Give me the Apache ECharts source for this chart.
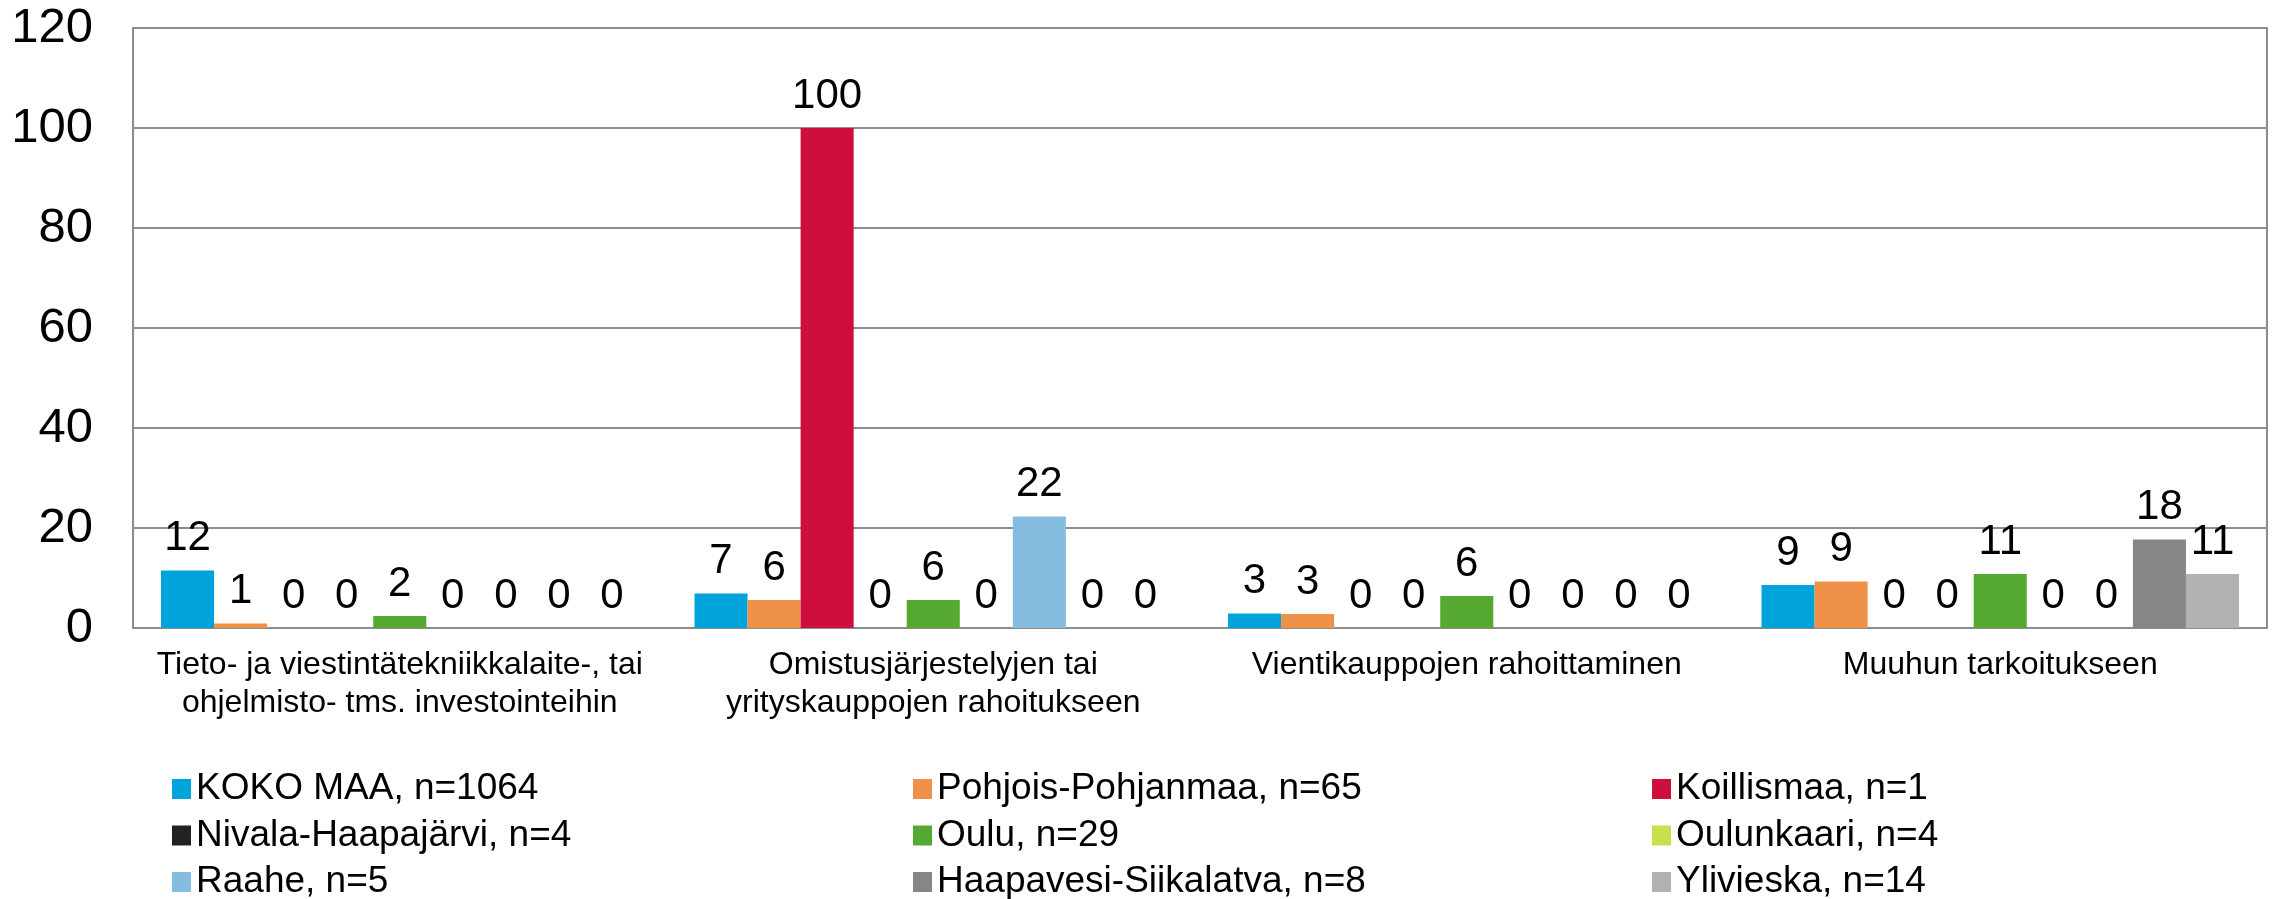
<!DOCTYPE html>
<html>
<head>
<meta charset="utf-8">
<script src="https://cdn.jsdelivr.net/npm/echarts@6/dist/echarts.min.js"></script>
<style>
  html, body { margin: 0; padding: 0; background: #fff; }
  #main { width: 2283px; height: 899px; }
</style>
</head>
<body>
<div id="main"></div>
<script>
// kategoriat
var categories = [
    'Tieto- ja viestintätekniikkalaite-, tai\nohjelmisto- tms. investointeihin',
    'Omistusjärjestelyjen tai\nyrityskauppojen rahoitukseen',
    'Vientikauppojen rahoittaminen',
    'Muuhun tarkoitukseen'
];
var yTicks = [0, 20, 40, 60, 80, 100, 120];

// sarjat (%)
var kokoMaa    = [11.5, 6.9, 2.9, 8.6];
var pohjois    = [0.9, 5.6, 2.8, 9.3];
var koillismaa = [0, 100, 0, 0];
var nivala     = [0, 0, 0, 0];
var oulu       = [2.4, 5.6, 6.4, 10.8];
var oulunkaari = [0, 0, 0, 0];
var raahe      = [0, 22.3, 0, 0];
var haapavesi  = [0, 0, 0, 17.7];
var ylivieska  = [0, 0, 0, 10.8];

var seriesNames = [
    'KOKO MAA, n=1064', 'Pohjois-Pohjanmaa, n=65', 'Koillismaa, n=1',
    'Nivala-Haapajärvi, n=4', 'Oulu, n=29', 'Oulunkaari, n=4',
    'Raahe, n=5', 'Haapavesi-Siikalatva, n=8', 'Ylivieska, n=14'
];
var seriesData = [kokoMaa, pohjois, koillismaa, nivala, oulu, oulunkaari, raahe, haapavesi, ylivieska];
var colors = ['#00A3DA', '#F0914A', '#CE0E3D', '#222222', '#55A930', '#C8E04E', '#85BDE1', '#868686', '#B2B2B2'];

var font = '"Liberation Sans", Arial, sans-serif';

var series = seriesData.map(function (d, i) {
    return {
        name: seriesNames[i],
        type: 'bar',
        data: d,
        barGap: '0%',
        barCategoryGap: '10.5%',
        itemStyle: { color: colors[i] },
        label: {
            show: true,
            position: 'top',
            distance: 11,
            color: '#000',
            fontFamily: font,
            fontSize: 42,
            formatter: function (p) { return Math.round(p.value); }
        }
    };
});

function legendCol(x, names) {
    return {
        orient: 'vertical',
        left: x,
        top: 766,
        height: 160,
        padding: 0,
        itemWidth: 19,
        itemHeight: 20,
        itemGap: 0.5,
        icon: 'rect',
        selectedMode: false,
        data: names,
        textStyle: { fontFamily: font, fontSize: 37, color: '#000', lineHeight: 46 }
    };
}

var myChart = echarts.init(document.getElementById('main'));
var option = {
    backgroundColor: '#fff',
    animation: false,
    color: colors,
    grid: {
        left: 133,
        right: 16,
        top: 28,
        bottom: 271,
        show: true,
        borderColor: '#8C8C8C',
        borderWidth: 2
    },
    legend: [
        legendCol(172, [seriesNames[0], seriesNames[3], seriesNames[6]]),
        legendCol(913, [seriesNames[1], seriesNames[4], seriesNames[7]]),
        legendCol(1652, [seriesNames[2], seriesNames[5], seriesNames[8]])
    ],
    xAxis: {
        type: 'category',
        data: categories,
        axisLine: { lineStyle: { color: '#8C8C8C', width: 2 } },
        axisTick: { show: false },
        axisLabel: {
            interval: 0,
            margin: 18,
            color: '#000',
            fontFamily: font,
            fontSize: 32,
            lineHeight: 38
        }
    },
    yAxis: {
        type: 'value',
        min: yTicks[0],
        max: yTicks[yTicks.length - 1],
        interval: 20,
        axisLine: { show: true, lineStyle: { color: '#8C8C8C', width: 2 } },
        axisTick: { show: false },
        splitLine: { lineStyle: { color: '#8C8C8C', width: 2 } },
        axisLabel: {
            margin: 40,
            color: '#000',
            fontFamily: font,
            fontSize: 49
        }
    },
    series: series
};
myChart.setOption(option);
</script>
</body>
</html>
